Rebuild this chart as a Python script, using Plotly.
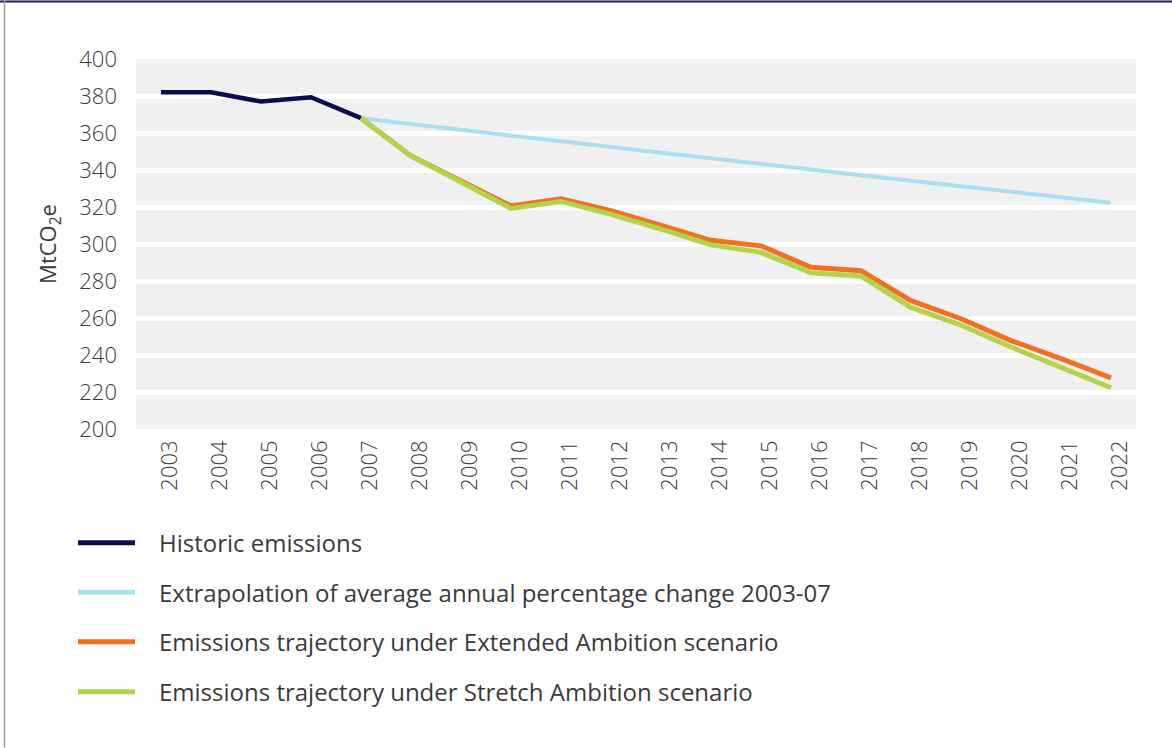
import plotly.graph_objects as go

years = [str(y) for y in range(2003, 2023)]

historic_years = ["2003", "2004", "2005", "2006", "2007"]
historic = [382, 382, 377, 379.3, 368]

proj_years = [str(y) for y in range(2007, 2023)]
extrapolation = [368, 365, 362, 359, 355.5, 352.4, 349.5, 346.4, 343.5, 340.3,
                 337.2, 334.2, 331.2, 328.2, 325.2, 322.3]
extended = [368, 347.6, 334, 320.5, 324.5, 318, 310, 302, 299, 287.4,
            285.6, 269.4, 259.6, 247.8, 238, 227.6]
stretch = [368, 347.6, 333.5, 319.2, 323, 316, 308, 299.5, 295.5, 284.5,
           282.7, 265.7, 256.2, 244.3, 233.3, 222.3]

names = ["Historic emissions",
         "Extrapolation of average annual percentage change 2003-07",
         "Emissions trajectory under Extended Ambition scenario",
         "Emissions trajectory under Stretch Ambition scenario"]
colors = ["#0b0b4d", "#abdeee", "#f37021", "#b3d34c"]
widths = [4.5, 4, 5, 5]

y_ticks = [200, 220, 240, 260, 280, 300, 320, 340, 360, 380, 400]

FONT = "Open Sans"
TXT = "#3a3a3a"

# plot area geometry (pixels) used to place the custom legend in paper coords
L, R, T, B = 136, 1136, 58.5, 429


def px_x(px):
    return (px - L) / (R - L)


def px_y(py):
    return (B - py) / (B - T)


fig = go.Figure()
series = [(historic_years, historic), (proj_years, extrapolation),
          (proj_years, extended), (proj_years, stretch)]
for i, (xs, ys) in enumerate(series):
    fig.add_trace(go.Scatter(
        x=xs, y=ys, mode="lines", name=names[i], showlegend=False,
        line=dict(color=colors[i], width=widths[i]),
    ))

# legend drawn as swatch lines + text
shapes = [
    dict(type="line", xref="paper", yref="paper", x0=-0.14, x1=1.04,
         y0=px_y(1), y1=px_y(1), line=dict(color="#1b1a5a", width=2)),
    dict(type="line", xref="paper", yref="paper", x0=px_x(4.5), x1=px_x(4.5),
         y0=px_y(0), y1=px_y(748), line=dict(color="#9a9a9a", width=1.5)),
]
annotations = []
legend_y = [543, 592.5, 642, 692]
for i, name in enumerate(names):
    yy = px_y(legend_y[i])
    shapes.append(dict(type="line", xref="paper", yref="paper",
                       x0=px_x(78), x1=px_x(135), y0=yy, y1=yy,
                       line=dict(color=colors[i], width=5)))
    annotations.append(dict(xref="paper", yref="paper", x=px_x(157), y=yy,
                            xanchor="left", yanchor="middle", showarrow=False,
                            text=name, font=dict(size=24, color=TXT, family=FONT)))

fig.update_layout(
    width=1172, height=748,
    margin=dict(l=L, r=1172 - R, t=T, b=748 - B, autoexpand=False),
    paper_bgcolor="white", plot_bgcolor="#f0f0f0",
    font=dict(family=FONT, color=TXT),
    showlegend=False,
    xaxis=dict(
        type="category", categoryorder="array", categoryarray=years,
        range=[-0.5, 19.5], tickmode="array", tickvals=years, ticktext=years,
        tickangle=-90, tickfont=dict(size=22, color=TXT, family=FONT, weight=300),
        showgrid=False, zeroline=False, showline=False, ticks="",
        ticklabelshift=9, ticklabelstandoff=6, automargin=False,
    ),
    yaxis=dict(
        range=[200, 400], tickmode="array", tickvals=y_ticks,
        tickfont=dict(size=22, color=TXT, family=FONT, weight=300),
        showgrid=True, gridcolor="white", gridwidth=5,
        zeroline=False, showline=False, ticks="",
        ticklabelstandoff=18, automargin=False,
        title=dict(text="MtCO<sub>2</sub>e", font=dict(size=22, color=TXT, family=FONT),
                   standoff=16),
    ),
    shapes=shapes,
    annotations=annotations,
)

fig.write_html("out.html", config={"displayModeBar": False},
               post_script="document.body.style.margin='0';")
